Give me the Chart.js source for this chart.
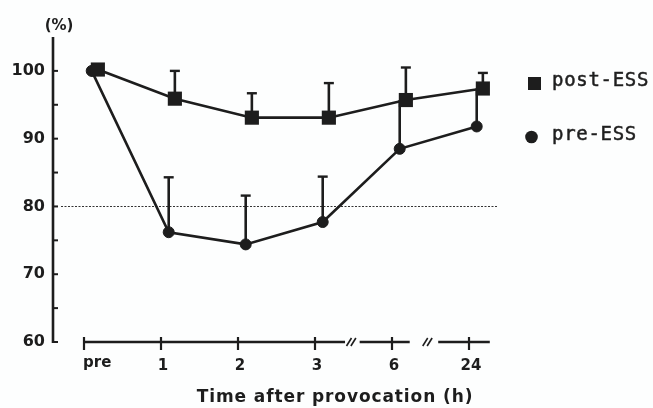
<!DOCTYPE html>
<html>
<head>
<meta charset="utf-8">
<script src="https://cdn.jsdelivr.net/npm/chart.js@4.4.0/dist/chart.umd.min.js"></script>
<style>
html,body{margin:0;padding:0;background:#fdfefe;}
#c{display:block;}
</style>
</head>
<body>
<canvas id="c" width="653" height="408"></canvas>
<script>
// ---- data ----
const categories = ['pre', '1', '2', '3', '6', '24'];
const postESS = [100.2, 95.9, 93.1, 93.1, 95.7, 97.4];
const postESSErrTop = [null, 100.0, 96.7, 98.2, 100.5, 99.7];
const preESS = [100.0, 76.2, 74.4, 77.7, 88.5, 91.8];
const preESSErrTop = [null, 84.3, 81.6, 84.4, 95.7, 97.4];
const yTickValues = [60, 70, 80, 90, 100];
const yMinorStep = 5;
const referenceLevel = 80;
const seriesNames = ['post-ESS', 'pre-ESS'];
const yUnit = '(%)';
const xTitle = 'Time after provocation (h)';

const INK = '#1d1d1d';
const X_MIN = -0.4026, X_MAX = 5.3636, Y_MIN = 60, Y_MAX = 105;
const PRE_OFF = 0.10, POST_OFF = 0.18;

const toPts = (arr, off) => arr.map((v, i) => ({x: i + off, y: v}));

const decor = {
  id: 'decor',
  beforeDatasetsDraw(chart) {
    const {ctx, chartArea: a, scales: {x, y}} = chart;
    ctx.save();
    ctx.strokeStyle = INK;
    ctx.fillStyle = INK;
    ctx.lineCap = 'butt';

    // y axis
    ctx.lineWidth = 2.6;
    ctx.beginPath();
    ctx.moveTo(a.left, y.getPixelForValue(Y_MAX));
    ctx.lineTo(a.left, y.getPixelForValue(Y_MIN) + 1);
    ctx.stroke();
    ctx.lineWidth = 2;
    for (let v = Y_MIN; v <= 100; v += yMinorStep) {
      const py = y.getPixelForValue(v);
      ctx.beginPath();
      ctx.moveTo(a.left, py);
      ctx.lineTo(a.left + 5, py);
      ctx.stroke();
    }

    // x axis with breaks
    const axY = y.getPixelForValue(Y_MIN);
    const segs = [[0, 3.39], [3.58, 4.23], [4.60, 5.27]];
    ctx.lineWidth = 2.6;
    segs.forEach(([s, e]) => {
      ctx.beginPath();
      ctx.moveTo(x.getPixelForValue(s), axY);
      ctx.lineTo(x.getPixelForValue(e), axY);
      ctx.stroke();
    });
    ctx.lineWidth = 1.6;
    [3.47, 4.46].forEach(c => {
      const cx = x.getPixelForValue(c);
      [-2.2, 2.2].forEach(d => {
        ctx.beginPath();
        ctx.moveTo(cx + d - 2.5, axY + 4);
        ctx.lineTo(cx + d + 2.5, axY - 4);
        ctx.stroke();
      });
    });
    ctx.lineWidth = 2.2;
    categories.forEach((c, i) => {
      const px = x.getPixelForValue(i);
      ctx.beginPath();
      ctx.moveTo(px, axY - 5);
      ctx.lineTo(px, axY + 8);
      ctx.stroke();
    });

    // x labels
    ctx.font = 'bold 15px "DejaVu Sans"';
    ctx.textBaseline = 'alphabetic';
    categories.forEach((c, i) => {
      const px = x.getPixelForValue(i);
      if (i === 0) { ctx.textAlign = 'left'; ctx.fillText(c, px - 1, 367); }
      else { ctx.textAlign = 'center'; ctx.fillText(c, px + 2, 370); }
    });

    // dotted reference line
    ctx.lineWidth = 1;
    ctx.strokeStyle = '#333';
    ctx.setLineDash([2, 1.5]);
    const ry = Math.round(y.getPixelForValue(referenceLevel)) + 0.5;
    ctx.beginPath();
    ctx.moveTo(a.left + 8, ry);
    ctx.lineTo(a.right, ry);
    ctx.stroke();
    ctx.setLineDash([]);

    // error bars (upward only)
    ctx.strokeStyle = INK;
    const drawErr = (vals, tops, off, capCheck) => {
      vals.forEach((v, i) => {
        const t = tops[i];
        if (t == null) return;
        const px = x.getPixelForValue(i + off);
        const py0 = y.getPixelForValue(v), py1 = y.getPixelForValue(t);
        ctx.lineWidth = 2.6;
        ctx.beginPath(); ctx.moveTo(px, py0); ctx.lineTo(px, py1); ctx.stroke();
        if (capCheck(i, t)) {
          ctx.lineWidth = 2.4;
          ctx.beginPath(); ctx.moveTo(px - 5, py1); ctx.lineTo(px + 5, py1); ctx.stroke();
        }
      });
    };
    drawErr(postESS, postESSErrTop, POST_OFF, () => true);
    // a pre-ESS bar whose top falls inside the post-ESS marker shows no cap
    drawErr(preESS, preESSErrTop, PRE_OFF, (i, t) => t < postESS[i] - 1);
    ctx.restore();
  },
  afterDraw(chart) {
    const {ctx} = chart;
    ctx.save();
    ctx.fillStyle = INK;
    // unit label
    ctx.font = 'bold 15px "DejaVu Sans"';
    ctx.textAlign = 'center';
    ctx.textBaseline = 'alphabetic';
    ctx.fillText(yUnit, 59, 30);
    // x title
    ctx.font = 'bold 17px "DejaVu Sans"';
    ctx.letterSpacing = '0.9px';
    ctx.fillText(xTitle, 335, 402);
    ctx.letterSpacing = '0px';
    // legend
    ctx.fillRect(528, 77, 13, 13);
    ctx.beginPath(); ctx.arc(531.5, 137, 6.3, 0, Math.PI * 2); ctx.fill();
    ctx.font = '19px "DejaVu Sans Mono"';
    ctx.letterSpacing = '0.7px';
    ctx.textAlign = 'left';
    ctx.fillStyle = '#1f1f1f';
    ctx.strokeStyle = '#1f1f1f';
    ctx.lineWidth = 0.5;
    ctx.fillText(seriesNames[0], 552, 86);
    ctx.strokeText(seriesNames[0], 552, 86);
    ctx.fillText(seriesNames[1], 552, 140);
    ctx.strokeText(seriesNames[1], 552, 140);
    ctx.restore();
  }
};

new Chart(document.getElementById('c'), {
  type: 'line',
  data: {
    datasets: [
      {
        label: seriesNames[0],
        data: toPts(postESS, POST_OFF),
        borderColor: INK, borderWidth: 2.6,
        pointStyle: 'rect', pointRadius: 10, pointHoverRadius: 10,
        pointBackgroundColor: INK, pointBorderColor: INK, pointBorderWidth: 0,
        tension: 0
      },
      {
        label: seriesNames[1],
        data: toPts(preESS, PRE_OFF),
        borderColor: INK, borderWidth: 2.6,
        pointStyle: 'circle', pointRadius: 5.5, pointHoverRadius: 5.5,
        pointBackgroundColor: INK, pointBorderColor: INK, pointBorderWidth: 1,
        tension: 0
      }
    ]
  },
  options: {
    responsive: false,
    animation: false,
    events: [],
    layout: {padding: {left: 0, top: 37, right: 156, bottom: 66}},
    plugins: {legend: {display: false}, tooltip: {enabled: false}, title: {display: false}},
    scales: {
      x: {type: 'linear', min: X_MIN, max: X_MAX, display: false},
      y: {
        type: 'linear', min: Y_MIN, max: Y_MAX,
        afterBuildTicks: s => { s.ticks = yTickValues.map(v => ({value: v})); },
        afterFit: s => { s.width = 53; },
        grid: {display: false, drawTicks: false},
        border: {display: false},
        ticks: {padding: 8, color: INK, font: {family: 'DejaVu Sans', weight: 'bold', size: 16}}
      }
    }
  },
  plugins: [decor]
});
</script>
</body>
</html>
